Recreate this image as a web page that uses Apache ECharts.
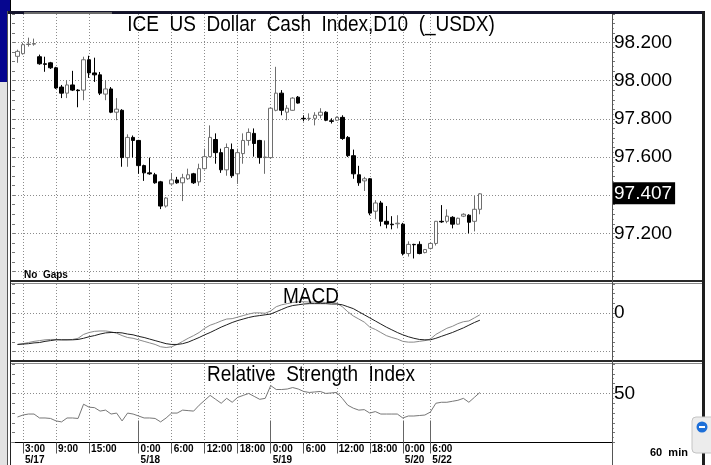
<!DOCTYPE html>
<html>
<head>
<meta charset="utf-8">
<style>
html,body{margin:0;padding:0;background:#fff;}
#chart{width:711px;height:465px;}
</style>
<script src="https://cdn.jsdelivr.net/npm/echarts@6/dist/echarts.min.js"></script>
</head>
<body>
<div id="chart"></div>
<script>
// hourly sessions on the time axis: [date, first hour, last hour]
const sessions = [['5/17', 1, 23], ['5/18', 0, 23], ['5/19', 0, 23], ['5/20', 0, 4], ['5/22', 6, 23], ['5/23', 0, 15]];
const firstBar = '5/17 2:00';
// labelled ticks: [category, time, date]
const tickMarks = [
  ['5/17 3:00', '3:00', '5/17'], ['5/17 9:00', '9:00', ''], ['5/17 15:00', '15:00', ''],
  ['5/18 0:00', '0:00', '5/18'], ['5/18 6:00', '6:00', ''], ['5/18 12:00', '12:00', ''], ['5/18 18:00', '18:00', ''],
  ['5/19 0:00', '0:00', '5/19'], ['5/19 6:00', '6:00', ''], ['5/19 12:00', '12:00', ''], ['5/19 18:00', '18:00', ''],
  ['5/20 0:00', '0:00', '5/20'], ['5/22 6:00', '6:00', '5/22']
];
const dayTicks = ['5/18 0:00', '5/19 0:00', '5/20 0:00', '5/22 6:00'];

const opens = [98.128,98.142,98.190,98.192,98.126,98.089,98.094,98.068,97.967,97.935,
  97.978,97.951,97.951,98.110,98.041,98.031,97.930,97.957,97.835,97.845,
  97.597,97.703,97.687,97.555,97.517,97.507,97.470,97.343,97.459,97.480,
  97.465,97.486,97.512,97.470,97.539,97.602,97.692,97.623,97.533,97.639,
  97.512,97.618,97.687,97.724,97.687,97.597,97.597,97.845,97.935,97.835,
  97.845,97.914,97.803,97.802,97.803,97.819,97.835,97.790,97.793,97.808,
  97.703,97.607,97.507,97.475,97.486,97.316,97.359,97.263,97.248,97.250,
  97.248,97.094,97.142,97.142,97.099,97.121,97.147,97.263,97.263,97.284,
  97.248,97.290,97.295,97.263,97.326];
const closes = [98.154,98.189,98.192,98.195,98.089,98.086,98.068,97.962,97.935,97.978,
  97.951,97.948,98.110,98.041,98.031,97.935,97.957,97.835,97.851,97.597,
  97.703,97.687,97.555,97.517,97.512,97.465,97.343,97.385,97.480,97.465,
  97.491,97.507,97.465,97.539,97.602,97.703,97.623,97.533,97.650,97.502,
  97.623,97.687,97.729,97.671,97.597,97.600,97.856,97.935,97.845,97.856,
  97.909,97.883,97.800,97.803,97.819,97.835,97.793,97.787,97.808,97.697,
  97.607,97.512,97.465,97.486,97.306,97.359,97.263,97.248,97.245,97.253,
  97.094,97.142,97.140,97.094,97.115,97.147,97.263,97.260,97.290,97.248,
  97.279,97.300,97.258,97.326,97.407];
const lows = [98.094,98.137,98.179,98.184,98.084,98.047,98.062,97.957,97.909,97.909,
  97.946,97.861,97.898,98.015,97.994,97.925,97.898,97.830,97.793,97.549,
  97.549,97.597,97.512,97.475,97.507,97.460,97.327,97.335,97.455,97.460,
  97.369,97.480,97.459,97.449,97.535,97.598,97.565,97.517,97.502,97.491,
  97.459,97.565,97.660,97.602,97.565,97.512,97.592,97.840,97.819,97.793,
  97.843,97.880,97.787,97.790,97.766,97.803,97.788,97.776,97.790,97.690,
  97.600,97.486,97.449,97.422,97.295,97.274,97.237,97.226,97.221,97.226,
  97.084,97.078,97.068,97.090,97.095,97.115,97.136,97.255,97.253,97.226,
  97.245,97.285,97.200,97.210,97.300];
const highs = [98.163,98.200,98.226,98.221,98.137,98.126,98.099,98.073,97.978,98.004,
  98.052,97.956,98.126,98.131,98.121,98.046,98.004,97.967,97.909,97.851,
  97.719,97.713,97.690,97.560,97.597,97.517,97.475,97.390,97.517,97.496,
  97.512,97.539,97.517,97.565,97.644,97.766,97.724,97.644,97.671,97.671,
  97.644,97.724,97.750,97.750,97.690,97.687,97.861,98.073,97.951,97.872,
  97.914,97.920,97.819,97.829,97.835,97.856,97.840,97.803,97.813,97.819,
  97.710,97.639,97.554,97.496,97.490,97.374,97.370,97.343,97.290,97.295,
  97.255,97.158,97.145,97.158,97.118,97.150,97.265,97.348,97.326,97.290,
  97.282,97.305,97.300,97.396,97.410];

const macdFast = [-0.082,-0.080,-0.077,-0.074,-0.072,-0.070,-0.069,-0.069,-0.070,-0.070,
  -0.069,-0.066,-0.056,-0.051,-0.048,-0.047,-0.047,-0.049,-0.053,-0.059,
  -0.064,-0.066,-0.070,-0.074,-0.078,-0.082,-0.088,-0.090,-0.088,-0.082,
  -0.074,-0.066,-0.059,-0.051,-0.040,-0.032,-0.027,-0.021,-0.016,-0.015,
  -0.011,-0.007,-0.003,0.000,0.000,-0.001,0.005,0.016,0.021,0.024,
  0.027,0.029,0.029,0.028,0.028,0.028,0.027,0.027,0.025,0.016,
  0.003,-0.008,-0.016,-0.024,-0.037,-0.043,-0.051,-0.059,-0.064,-0.068,
  -0.074,-0.076,-0.076,-0.074,-0.072,-0.068,-0.056,-0.048,-0.040,-0.035,
  -0.028,-0.023,-0.021,-0.013,-0.005];
const macdSignal = [-0.082,-0.081,-0.080,-0.078,-0.077,-0.074,-0.072,-0.070,-0.070,-0.070,
  -0.070,-0.069,-0.066,-0.062,-0.059,-0.055,-0.052,-0.051,-0.051,-0.052,
  -0.055,-0.057,-0.061,-0.064,-0.068,-0.072,-0.076,-0.080,-0.082,-0.082,
  -0.080,-0.076,-0.070,-0.064,-0.057,-0.051,-0.044,-0.037,-0.031,-0.025,
  -0.020,-0.016,-0.012,-0.009,-0.007,-0.005,-0.003,0.003,0.009,0.015,
  0.019,0.021,0.023,0.024,0.024,0.024,0.024,0.023,0.023,0.021,
  0.016,0.011,0.003,-0.005,-0.013,-0.021,-0.029,-0.037,-0.044,-0.051,
  -0.057,-0.062,-0.066,-0.069,-0.070,-0.070,-0.066,-0.061,-0.056,-0.051,
  -0.045,-0.039,-0.032,-0.025,-0.019];
const rsi = [26,28,29,29,25,25,24.5,22,21,25,
  25,24.5,39,36,35.5,32,33,29,30,22,
  30,29,27,25,25,24.5,21,25,30,30,
  33,32.5,32,38,43,48,44,40,45,41,
  46,48,50,47,44,45,58,54,54,54.5,
  56,54.5,52,51,51.5,52,50,50.5,51,45,
  38,35,33,33.5,30,31.5,29,29,29,29,
  25,27,27,27.5,28,31,40,41,41,42,
  43,45,41,46,51];

const priceGrid = [97.0, 97.2, 97.4, 97.6, 97.8, 98.0, 98.2];
const priceLabels = [97.2, 97.6, 97.8, 98.0, 98.2];
const macdGrid = [0, -0.1];
const rsiGrid = [50];

const F = '"Liberation Sans", Arial, Helvetica, sans-serif';
const cats = [];
sessions.forEach(([d, h0, h1]) => {
  for (let h = h0; h <= h1; h++) cats.push(d + ' ' + h + ':00');
});
const first = cats.indexOf(firstBar);
const tickMap = {};
tickMarks.forEach(([c, t, d]) => { tickMap[c] = { t, d }; });
const isTick = (i, v) => tickMap[v] !== undefined;
const dotted = { type: [1, 2], color: '#8c8c8c', width: 1 };
const lastPrice = closes[closes.length - 1];

function xBase(gi) {
  return {
    type: 'category', gridIndex: gi, data: cats, boundaryGap: false,
    axisLine: { show: false }, axisTick: { show: false }, axisLabel: { show: false },
    splitLine: { show: true, interval: isTick, lineStyle: dotted }
  };
}
function yPair(gi, min, max, interval, fmt) {
  return [
    {
      type: 'value', gridIndex: gi, position: 'right', min, max, interval,
      splitLine: { show: false },
      axisLine: { show: true, lineStyle: { color: '#555' } },
      axisTick: { show: true, length: 3, lineStyle: { color: '#777' } },
      minorTick: { show: true, splitNumber: 2, length: 2, lineStyle: { color: '#999' } },
      axisLabel: { margin: 2, fontSize: 19, fontFamily: F, color: '#000', formatter: fmt }
    },
    {
      type: 'value', gridIndex: gi, position: 'left', min, max, interval,
      splitLine: { show: false }, axisLine: { show: false },
      axisTick: { show: true, inside: true, length: 3, lineStyle: { color: '#777' } },
      axisLabel: { show: false }
    }
  ];
}
function gridLines(values) {
  return {
    silent: true, z: 1, animation: false, symbol: ['none', 'none'],
    label: { show: false }, lineStyle: dotted,
    data: values.map(v => ({ yAxis: v }))
  };
}

const priceMark = gridLines(priceGrid);
priceMark.data.push({
  yAxis: lastPrice, lineStyle: { color: 'rgba(0,0,0,0)', type: 'solid' },
  label: {
    show: true, position: 'end', distance: 1, formatter: lastPrice.toFixed(3),
    color: '#fff', backgroundColor: '#000', fontSize: 19, fontFamily: F,
    padding: [2, 3, 1, 1]
  }
});

const xRsi = xBase(2);
xRsi.axisLine = { show: true, lineStyle: { color: '#000', width: 1 } };
xRsi.axisTick = { show: true, interval: isTick, length: 11, lineStyle: { color: '#555' } };
xRsi.axisLabel = {
  show: true, interval: isTick, margin: 1, align: 'left', padding: [0, 0, 0, 2],
  formatter: (v) => {
    const m = tickMap[v];
    if (!m) return '';
    return m.d ? '{t|' + m.t + '}\n{d|' + m.d + '}' : '{t|' + m.t + '}';
  },
  rich: {
    t: { fontSize: 10, fontWeight: 'bold', fontFamily: F, color: '#000', lineHeight: 11 },
    d: { fontSize: 10, fontWeight: 'bold', fontFamily: F, color: '#000', lineHeight: 11 }
  }
};
const xDays = {
  type: 'category', gridIndex: 2, data: cats, boundaryGap: false,
  axisLine: { show: false }, axisLabel: { show: false }, splitLine: { show: false },
  axisTick: { show: true, interval: (i, v) => dayTicks.includes(v), length: 22, lineStyle: { color: '#666' } }
};

function txt(x, y, text, font, align, sy) {
  return {
    type: 'text', x, y, scaleY: sy || 1, z: 100,
    style: {
      text, font, fill: '#000',
      align: align, textAlign: align, verticalAlign: 'middle', textVerticalAlign: 'middle'
    }
  };
}
const frame = [
  { type: 'rect', z: 90, shape: { x: 0, y: 0, width: 7, height: 465 }, style: { fill: '#e3e3e3' } },
  { type: 'rect', z: 91, shape: { x: 0, y: 0, width: 7, height: 82 }, style: { fill: '#06068f' } },
  { type: 'rect', z: 91, shape: { x: 0, y: 0, width: 10, height: 11 }, style: { fill: '#06068f' } },
  { type: 'line', z: 91, shape: { x1: 10.5, y1: 0, x2: 10.5, y2: 11 }, style: { stroke: '#000' } },
  { type: 'rect', z: 91, shape: { x: 7, y: 11, width: 698, height: 3 }, style: { fill: '#14142a' } },
  { type: 'rect', z: 92, shape: { x: 24, y: 12, width: 88, height: 2 }, style: { fill: '#6a6a6a' } },
  { type: 'line', z: 91, shape: { x1: 7.5, y1: 11, x2: 7.5, y2: 465 }, style: { stroke: '#555' } },
  { type: 'line', z: 91, shape: { x1: 10.5, y1: 14, x2: 10.5, y2: 465 }, style: { stroke: '#222' } },
  { type: 'rect', z: 91, shape: { x: 702, y: 11, width: 3, height: 454 }, style: { fill: '#1e1e1e' } },
  { type: 'rect', z: 91, shape: { x: 11, y: 280, width: 691, height: 2 }, style: { fill: '#2a2a2a' } },
  { type: 'rect', z: 91, shape: { x: 11, y: 283, width: 691, height: 1 }, style: { fill: '#8a8a8a' } },
  { type: 'rect', z: 91, shape: { x: 11, y: 360, width: 691, height: 2 }, style: { fill: '#2a2a2a' } },
  { type: 'rect', z: 91, shape: { x: 11, y: 363, width: 691, height: 1 }, style: { fill: '#8a8a8a' } },
  { type: 'line', z: 91, shape: { x1: 612.5, y1: 14, x2: 612.5, y2: 465 }, style: { stroke: '#555' } },
  { type: 'rect', z: 93, shape: { x: 692, y: 417, width: 24, height: 36, r: 4 }, style: { fill: '#ececec', stroke: '#c4c4c4' } },
  { type: 'circle', z: 94, shape: { cx: 702, cy: 427, r: 5.5 }, style: { fill: '#1d6fd8' } },
  { type: 'rect', z: 95, shape: { x: 699, y: 426, width: 6, height: 2 }, style: { fill: '#fff' } },
  txt(311, 25.5, 'ICE  US  Dollar  Cash  Index,D10  (_USDX)', '19px ' + F, 'center', 1.12),
  txt(311, 297.5, 'MACD', '19px ' + F, 'center', 1.12),
  txt(311, 375.5, 'Relative  Strength  Index', '19px ' + F, 'center', 1.12),
  txt(24, 275, 'No  Gaps', 'bold 10px ' + F, 'left'),
  txt(650, 453, '60  min', 'bold 11px ' + F, 'left')
];

const chart = echarts.init(document.getElementById('chart'));
chart.setOption({
  animation: false,
  backgroundColor: '#fff',
  grid: [
    { left: 12, top: 14, width: 600, height: 267 },
    { left: 12, top: 284, width: 600, height: 77 },
    { left: 12, top: 364, width: 600, height: 79 }
  ],
  xAxis: [xBase(0), xBase(1), xRsi, xDays],
  yAxis: [].concat(
    yPair(0, 96.95, 98.35, 0.05, v => {
      const m = Math.round(v * 1000);
      return priceLabels.some(p => Math.round(p * 1000) === m) ? (m / 1000).toFixed(3) : '';
    }),
    yPair(1, -0.125, 0.075, 0.025, v => (Math.abs(v) < 1e-9 ? '0' : '')),
    yPair(2, 0, 80, 10, v => (Math.round(v) === 50 ? '50' : ''))
  ),
  graphic: frame,
  series: [
    {
      type: 'candlestick', xAxisIndex: 0, yAxisIndex: 0, barWidth: 4,
      data: opens.map((o, k) => [first + k, o, closes[k], lows[k], highs[k]]),
      encode: { x: 0, y: [1, 2, 3, 4] },
      itemStyle: { color: '#fff', color0: '#000', borderColor: '#6e6e6e', borderColor0: '#000', borderWidth: 1 },
      markLine: priceMark
    },
    {
      type: 'line', xAxisIndex: 1, yAxisIndex: 2, symbol: 'none',
      data: macdFast.map((v, k) => [first + k, v]),
      lineStyle: { color: '#8a8a8a', width: 1 },
      markLine: gridLines(macdGrid)
    },
    {
      type: 'line', xAxisIndex: 1, yAxisIndex: 2, symbol: 'none',
      data: macdSignal.map((v, k) => [first + k, v]),
      lineStyle: { color: '#1e1e1e', width: 1 }
    },
    {
      type: 'line', xAxisIndex: 2, yAxisIndex: 4, symbol: 'none',
      data: rsi.map((v, k) => [first + k, v]),
      lineStyle: { color: '#777', width: 1 },
      markLine: gridLines(rsiGrid)
    }
  ]
});
</script>
</body>
</html>
